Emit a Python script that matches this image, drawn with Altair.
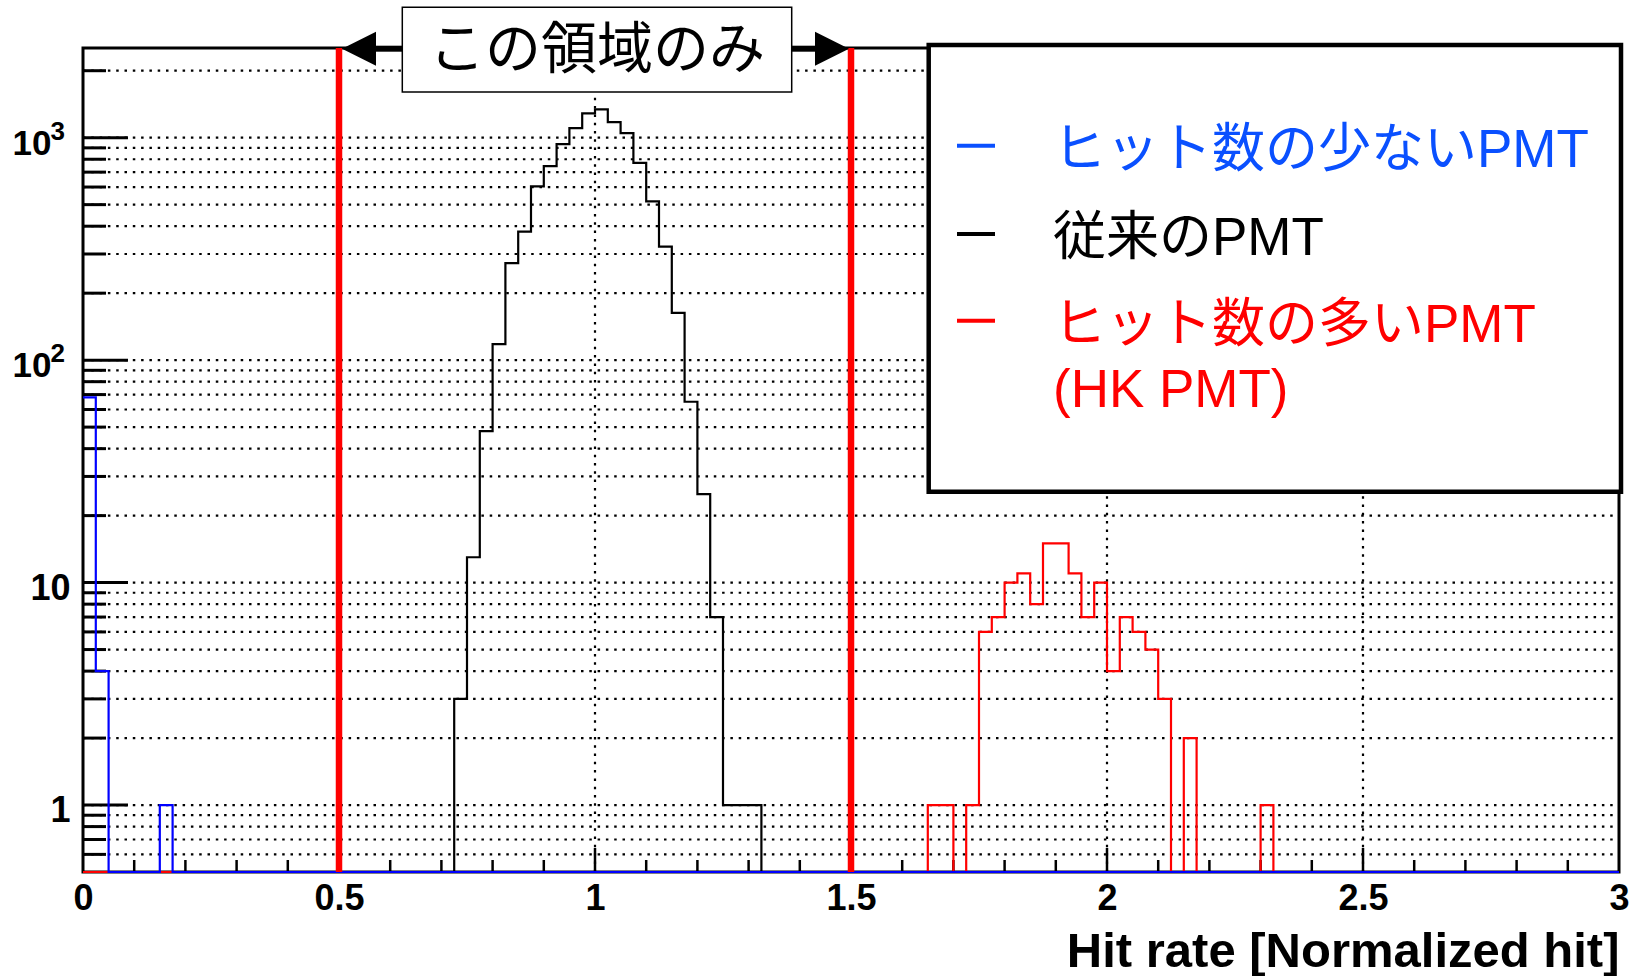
import altair as alt
import numpy as np
import pandas as pd

# ---------------- data ----------------
BIN_WIDTH = 0.025
N_BINS = 120
X_DOMAIN = [0.0, 3.0]
Y_DOMAIN = [0.5, 2530.0]

blue_first_edge = 0.0
blue_counts = [68, 4, 0, 0, 0, 0, 1]
black_first_edge = 0.725
black_counts = [3, 13, 48, 118, 273, 378, 604, 745, 935, 1104, 1285, 1340,
                1174, 1048, 771, 517, 324, 163, 65, 25, 7, 1, 1, 1]
red_first_edge = 1.65
red_counts = [1, 1, 0, 1, 6, 7, 10, 11, 8, 15, 15, 11, 7, 10, 4, 7, 6, 5, 3,
              0, 2, 0, 0, 0, 0, 0, 1]

hist_colors = ["#0000ff", "#000000", "#ff0000"]
legend_labels = ["ヒット数の少ないPMT", "従来のPMT", "ヒット数の多いPMT\n(HK PMT)"]
legend_colors = ["#0a50ff", "#000000", "#ff0000"]

region_edges = [0.5, 1.5]
region_label = "この領域のみ"
x_title = "Hit rate [Normalized hit]"

x_label_values = [0, 0.5, 1, 1.5, 2, 2.5, 3]
x_major_ticks = [0.5, 1, 1.5, 2, 2.5]
x_minor_ticks = [0.1, 0.2, 0.3, 0.4, 0.6, 0.7, 0.8, 0.9, 1.1, 1.2, 1.3, 1.4,
                 1.6, 1.7, 1.8, 1.9, 2.1, 2.2, 2.3, 2.4, 2.6, 2.7, 2.8, 2.9]
y_plain_label_values = [1, 10]
y_power_label_values = [100, 1000]
y_power_bases = ["10", "10"]
y_power_exponents = ["2", "3"]
y_major_ticks = [1, 10, 100, 1000]
y_minor_ticks = [0.6, 0.7, 0.8, 0.9, 2, 3, 4, 5, 6, 7, 8, 9,
                 20, 30, 40, 50, 60, 70, 80, 90,
                 200, 300, 400, 500, 600, 700, 800, 900, 2000]

# ---------------- layout ----------------
W, H = 1536, 824
NUM_FONT = "Liberation Sans"
JP_FONT = "Liberation Sans, Noto Sans CJK JP"


def hist_df(first_edge, counts):
    full = np.zeros(N_BINS)
    i0 = int(round(first_edge / BIN_WIDTH))
    full[i0:i0 + len(counts)] = counts
    edges = np.round(np.arange(N_BINS + 1) * BIN_WIDTH, 4)
    return pd.DataFrame({"edge": edges, "count": np.append(full, full[-1])})


xs = alt.Scale(domain=X_DOMAIN, nice=False, zero=False)
ys = alt.Scale(type="log", domain=Y_DOMAIN, nice=False)

xaxis = alt.Axis(values=x_label_values, format="~g", ticks=False, domain=False,
                 grid=False, labelFlush=False, labelOverlap=False,
                 labelFont=NUM_FONT, labelFontSize=36, labelFontWeight="bold",
                 labelColor="black", labelPadding=9,
                 title=x_title, titleFont=NUM_FONT, titleFontSize=49,
                 titleFontWeight="bold", titleColor="black", titleAlign="right",
                 titleBaseline="alphabetic", titleX=W, titleY=94)
yaxis = alt.Axis(values=y_plain_label_values, format="d", ticks=False,
                 domain=False, grid=False, labelFlush=False, labelOverlap=False,
                 labelFont=NUM_FONT, labelFontSize=36, labelFontWeight="bold",
                 labelColor="black", labelPadding=13, labelOffset=5.5, title=None)


def X(field):
    return alt.X(field, type="quantitative", scale=xs, axis=xaxis)


def Y(field):
    return alt.Y(field, type="quantitative", scale=ys, axis=yaxis)


DOT = [2.5, 5.8]
layers = []

# horizontal dotted grid (at every decade and sub-decade tick)
ygrid = pd.DataFrame({"v": sorted(y_minor_ticks + y_major_ticks)})
layers.append(alt.Chart(ygrid).mark_rule(color="black", strokeWidth=2.2, strokeDash=DOT)
              .encode(y=Y("v"), x=alt.value(0), x2=alt.value(W)))
# vertical dotted grid
xgrid = pd.DataFrame({"v": x_major_ticks})
layers.append(alt.Chart(xgrid).mark_rule(color="black", strokeWidth=2.2, strokeDash=DOT)
              .encode(x=X("v"), y=alt.value(0), y2=alt.value(H)))

# inward y ticks
layers.append(alt.Chart(pd.DataFrame({"v": y_major_ticks})).mark_rule(color="black", strokeWidth=3)
              .encode(y=Y("v"), x=alt.value(0), x2=alt.value(45)))
layers.append(alt.Chart(pd.DataFrame({"v": y_minor_ticks})).mark_rule(color="black", strokeWidth=3)
              .encode(y=Y("v"), x=alt.value(0), x2=alt.value(23)))
# inward x ticks
layers.append(alt.Chart(pd.DataFrame({"v": x_major_ticks})).mark_rule(color="black", strokeWidth=2.5)
              .encode(x=X("v"), y=alt.value(H), y2=alt.value(H - 24)))
layers.append(alt.Chart(pd.DataFrame({"v": x_minor_ticks})).mark_rule(color="black", strokeWidth=2.5)
              .encode(x=X("v"), y=alt.value(H), y2=alt.value(H - 12)))

# power-of-ten labels with real superscripts
pw = pd.DataFrame({"v": y_power_label_values, "base": y_power_bases, "exp": y_power_exponents})
layers.append(alt.Chart(pw).mark_text(font=NUM_FONT, fontSize=35, fontWeight="bold", color="black",
                                      align="right", baseline="alphabetic", dy=17)
              .encode(y=Y("v"), x=alt.value(-31.5), text="base:N"))
layers.append(alt.Chart(pw).mark_text(font=NUM_FONT, fontSize=26, fontWeight="bold", color="black",
                                      align="left", baseline="alphabetic", dy=2)
              .encode(y=Y("v"), x=alt.value(-32.5), text="exp:N"))

# histograms: black, red, blue (blue on top)
for (first, counts, col) in [(black_first_edge, black_counts, hist_colors[1]),
                             (red_first_edge, red_counts, hist_colors[2]),
                             (blue_first_edge, blue_counts, hist_colors[0])]:
    layers.append(
        alt.Chart(hist_df(first, counts))
        .transform_calculate(yv=f"max(datum.count, {Y_DOMAIN[0]})")
        .mark_line(interpolate="step-after", color=col, strokeWidth=2.2)
        .encode(x=X("edge"), y=Y("yv"))
    )

# red region boundaries
layers.append(alt.Chart(pd.DataFrame({"v": region_edges})).mark_rule(color="#ff0000", strokeWidth=6.5)
              .encode(x=X("v"), y=alt.value(0), y2=alt.value(H)))

one = pd.DataFrame({"t": [region_label]})
# arrows
layers.append(alt.Chart(one).mark_rule(color="black", strokeWidth=6)
              .encode(x=alt.value(290), x2=alt.value(320), y=alt.value(0.7)))
layers.append(alt.Chart(one).mark_rule(color="black", strokeWidth=6)
              .encode(x=alt.value(708), x2=alt.value(735), y=alt.value(0.7)))
layers.append(alt.Chart(one).mark_point(shape="M1,-1L-1,0L1,1Z", size=1156, filled=True,
                                        color="black", opacity=1, strokeWidth=0)
              .encode(x=alt.value(276), y=alt.value(0.7)))
layers.append(alt.Chart(one).mark_point(shape="M-1,-1L1,0L-1,1Z", size=1156, filled=True,
                                        color="black", opacity=1, strokeWidth=0)
              .encode(x=alt.value(749), y=alt.value(0.7)))
# label box
layers.append(alt.Chart(one).mark_rect(fill="white", stroke="black", strokeWidth=1.5)
              .encode(x=alt.value(319.3), x2=alt.value(708.7), y=alt.value(-40.7), y2=alt.value(44)))
layers.append(alt.Chart(one).mark_text(font="Noto Sans CJK JP", fontSize=56, color="black",
                                       align="center", baseline="alphabetic")
              .encode(x=alt.value(514), y=alt.value(20), text="t:N"))

# legend box
layers.append(alt.Chart(one).mark_rect(fill="white", stroke="black", strokeWidth=4.5)
              .encode(x=alt.value(845.7), x2=alt.value(1538), y=alt.value(-3), y2=alt.value(443.7)))
dash_y = [97.7, 186, 272.7]
text_y = [119, 207, 294]
for i in range(3):
    d = pd.DataFrame({"t": [legend_labels[i]]})
    layers.append(alt.Chart(d).mark_rule(color=legend_colors[i], strokeWidth=4)
                  .encode(x=alt.value(874), x2=alt.value(912), y=alt.value(dash_y[i])))
    layers.append(alt.Chart(d).mark_text(font=JP_FONT, fontSize=53, color=legend_colors[i],
                                         align="left", baseline="alphabetic",
                                         lineBreak="\n", lineHeight=65)
                  .encode(x=alt.value(970), y=alt.value(text_y[i]), text="t:N"))

chart = (
    alt.layer(*layers)
    .properties(width=W, height=H, autosize=alt.AutoSizeParams(type="none"),
                padding={"left": 83, "top": 48, "right": 20, "bottom": 104},
                background="white")
    .configure_view(stroke="black", strokeWidth=3)
)

chart.save("out.html", embed_options={"renderer": "svg", "actions": False})
